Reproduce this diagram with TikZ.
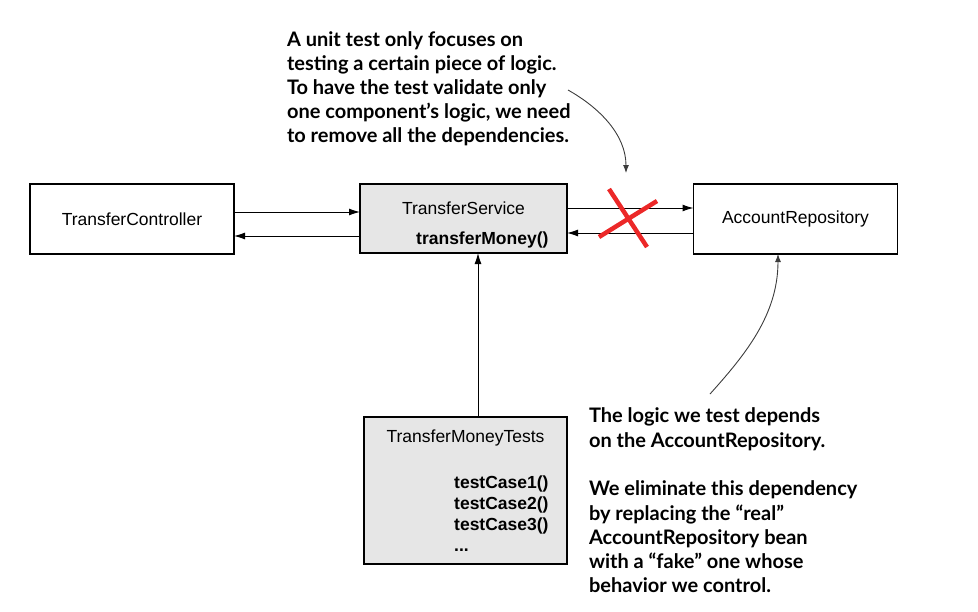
\documentclass[tikz,border=0pt]{standalone}
\usepackage{fontspec}
\setmainfont{Liberation Sans}
\newfontfamily\annotfont{Lato}
\usetikzlibrary{arrows.meta}
\definecolor{boxgray}{RGB}{230,230,230}
\definecolor{xred}{RGB}{236,40,40}
\definecolor{curvegray}{RGB}{60,60,60}
\tikzset{
  box/.style={draw=black, line width=1.1pt, minimum width=204pt, minimum height=70pt, inner sep=0pt, outer sep=0pt, font=\fontsize{17.5}{21}\selectfont},
  grayfill/.style={fill=boxgray},
  flow/.style={draw=black, line width=1pt, -{Latex[length=11pt,width=7pt]}},
  callout/.style={draw=curvegray, line width=0.9pt, -{Latex[length=8pt,width=6pt]}},
  annot/.style={inner sep=0pt, outer sep=0pt, align=left, anchor=north west, font=\annotfont\bfseries\fontsize{20}{23.8}\selectfont},
  annotb/.style={annot, font=\annotfont\bfseries\fontsize{20}{24.3}\selectfont},
  boxtext/.style={inner sep=0pt, font=\fontsize{17.5}{21}\selectfont},
  xstroke/.style={draw=xred, line width=4.5pt}
}
\begin{document}
\begin{tikzpicture}[x=1pt,y=-1pt]
\useasboundingbox (0,0) rectangle (978,611);
% boxes
\node[box] (tc) at (132,219) {TransferController};
\node[box, grayfill, minimum width=207pt, minimum height=69pt] (ts) at (463.5,218.5) {};
\node[box] (ar) at (795.5,219) {AccountRepository};
\node[box, grayfill, minimum width=203pt, minimum height=147pt] (tests) at (465.5,490.5) {};
% texts inside
\node[boxtext, anchor=base] (tsname) at (463.5,214) {TransferService};
\node[boxtext, anchor=base west, font=\bfseries\fontsize{17.5}{21}\selectfont] (tsmeth) at (416,244) {transferMoney()};
\node[boxtext, anchor=base] (testsname) at (465.5,442) {TransferMoneyTests};
\node[boxtext, anchor=base west, font=\bfseries\fontsize{17.5}{21}\selectfont] (c1) at (454,488) {testCase1()};
\node[boxtext, anchor=base west, font=\bfseries\fontsize{17.5}{21}\selectfont] (c2) at (454,509) {testCase2()};
\node[boxtext, anchor=base west, font=\bfseries\fontsize{17.5}{21}\selectfont] (c3) at (454,530) {testCase3()};
\node[boxtext, anchor=base west, font=\bfseries\fontsize{17.5}{21}\selectfont] (c4) at (454,551) {...};
% connectors
\draw[flow] ([yshift=7pt]tc.east) -- ([yshift=7pt]tc.east -| ts.west);
\draw[flow] ([yshift=-17pt]tc.east -| ts.west) -- ([yshift=-17pt]tc.east);
\draw[flow] ([yshift=10.5pt]ts.east) -- ([yshift=10.5pt]ts.east -| ar.west);
\draw[flow] ([yshift=-14.5pt]ts.east -| ar.west) -- ([yshift=-14.5pt]ts.east);
\draw[flow] ([xshift=12.5pt]tests.north) -- ([xshift=12.5pt]tests.north |- ts.south);
% red cross
\coordinate (xa1) at (609,189);
\coordinate (xa2) at (647,247);
\coordinate (xb1) at (599,237);
\coordinate (xb2) at (657,201);
\draw[xstroke] (xa1) -- (xa2);
\draw[xstroke] (xb1) -- (xb2);
% annotations
\node[annot] (topnote) at (287,32) {A unit test only focuses on\\testing a certain piece of logic.\\To have the test validate only\\one component’s logic, we need\\to remove all the dependencies.};
\node[annotb] (botnote) at (589,408) {The logic we test depends\\on the AccountRepository.\\[24.3pt]We eliminate this dependency\\by replacing the “real”\\AccountRepository bean\\with a “fake” one whose\\behavior we control.};
\coordinate (topstart) at (568,90);
\coordinate (topend) at (626,173);
\draw[callout] (topstart) .. controls (600,108) and (626,135) .. (topend);
\coordinate (botstart) at (710,394);
\draw[callout] (botstart) .. controls (745,355) and (778,315) .. ([xshift=-17.5pt]ar.south);
\end{tikzpicture}
\end{document}
